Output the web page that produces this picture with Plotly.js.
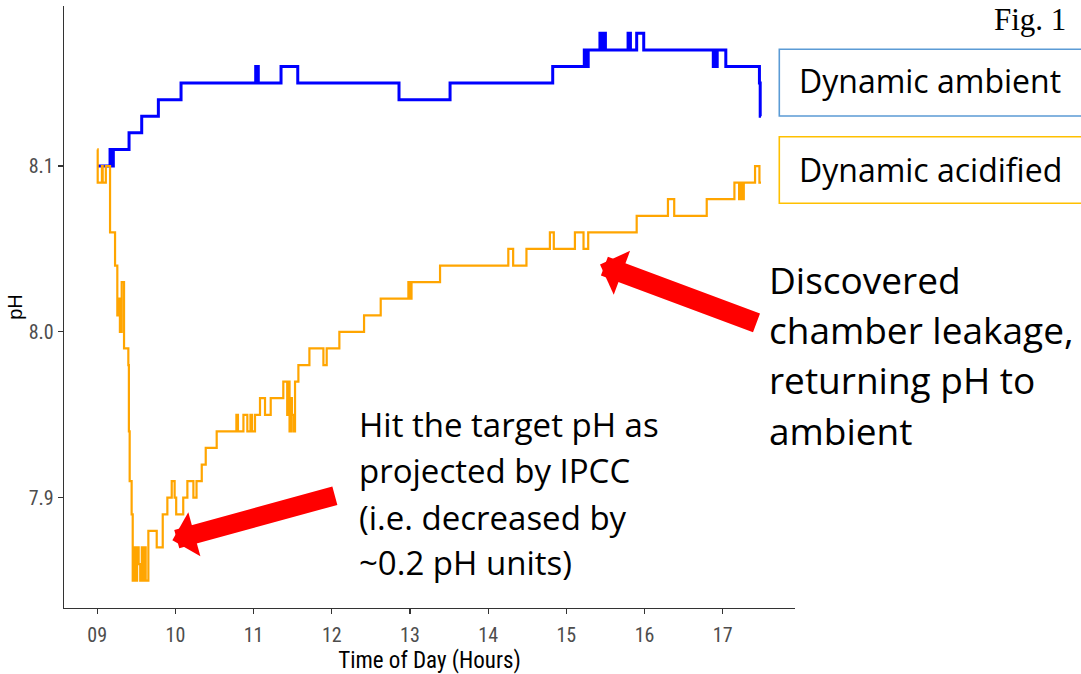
<!DOCTYPE html>
<html>
<head>
<meta charset="utf-8">
<script src="https://cdn.plot.ly/plotly-3.0.1.min.js"></script>
<style>html,body{margin:0;padding:0;background:#fff;}#chart{width:1081px;height:674px;}</style>
</head>
<body>
<div id="chart"></div>
<script>
// ---- data ----
const hourTicks = [9, 10, 11, 12, 13, 14, 15, 16, 17];
const hourLabels = ['09', '10', '11', '12', '13', '14', '15', '16', '17'];
const phTicks = [7.9, 8.0, 8.1];
const phLabels = ['7.9', '8.0', '8.1'];

const ambientTime = [9.00, 9.164, 9.185, 9.206, 9.407, 9.569, 9.782, 10.072, 11.027, 11.06, 11.351, 11.565, 12.86, 13.513, 14.826,
  15.23, 15.25, 15.26, 15.27, 15.28, 15.43, 15.45, 15.46, 15.48, 15.49, 15.50, 15.79, 15.82, 15.90, 15.99,
  16.88, 16.89, 16.90, 16.91, 16.92, 16.93, 17.04, 17.47, 17.48, 17.49];
const ambientPH = [8.10, 8.11, 8.10, 8.11, 8.12, 8.13, 8.14, 8.15, 8.16, 8.15, 8.16, 8.15, 8.14, 8.15, 8.16,
  8.17, 8.16, 8.17, 8.16, 8.17, 8.18, 8.17, 8.18, 8.17, 8.18, 8.17, 8.18, 8.17, 8.18, 8.17,
  8.16, 8.17, 8.16, 8.17, 8.16, 8.17, 8.16, 8.15, 8.13, 8.13];

const acidTime = [9.00, 9.006, 9.06, 9.07, 9.11, 9.164, 9.228, 9.257, 9.28, 9.29, 9.313, 9.343, 9.398, 9.405, 9.415, 9.44,
  9.454, 9.47, 9.49, 9.51, 9.53, 9.55, 9.57, 9.59, 9.61, 9.62, 9.654, 9.761, 9.838, 9.897, 9.953, 9.99, 10.01,
  10.10, 10.153, 10.23, 10.27, 10.337, 10.388, 10.528, 10.78, 10.80, 10.87, 10.92, 10.96, 10.98, 11.018,
  11.082, 11.146, 11.219, 11.38, 11.43, 11.45, 11.46, 11.48, 11.49, 11.51, 11.53, 11.573, 11.714, 11.893, 11.935,
  12.097, 12.413, 12.626, 12.98, 12.99, 13.00, 13.01, 13.02, 13.385, 14.258, 14.32, 14.49, 14.79, 14.84,
  15.11, 15.22, 15.28, 15.90, 16.30, 16.38, 16.796, 17.15, 17.21, 17.22, 17.23, 17.25, 17.26, 17.27, 17.414, 17.47, 17.49];
const acidPH = [8.11, 8.09, 8.10, 8.09, 8.10, 8.06, 8.04, 8.01, 8.02, 8.00, 8.03, 7.99, 7.98, 7.94, 7.91, 7.89,
  7.85, 7.87, 7.85, 7.87, 7.86, 7.85, 7.87, 7.85, 7.87, 7.85, 7.88, 7.87, 7.89, 7.90, 7.91, 7.90, 7.89,
  7.90, 7.91, 7.90, 7.91, 7.92, 7.93, 7.94, 7.95, 7.94, 7.95, 7.94, 7.95, 7.94, 7.95,
  7.96, 7.95, 7.96, 7.97, 7.95, 7.97, 7.94, 7.96, 7.95, 7.94, 7.97, 7.98, 7.99, 7.98, 7.99,
  8.00, 8.01, 8.02, 8.03, 8.02, 8.03, 8.02, 8.03, 8.04, 8.05, 8.04, 8.05, 8.06, 8.05,
  8.06, 8.05, 8.06, 8.07, 8.08, 8.07, 8.08, 8.09, 8.08, 8.09, 8.08, 8.09, 8.08, 8.09, 8.10, 8.09, 8.09];

const seriesNames = ['Dynamic ambient', 'Dynamic acidified'];
const ipccLines = ['Hit the target pH as', 'projected by IPCC', '(i.e. decreased by', '~0.2 pH units)'];
const leakLines = ['Discovered', 'chamber leakage,', 'returning pH to', 'ambient'];

// ---- layout helpers (pixel -> paper) ----
const W = 1081, H = 674;
const M = {l: 64, r: 286, t: 6, b: 66};
const PW = W - M.l - M.r, PH = H - M.t - M.b;
const px = x => (x - M.l) / PW;
const py = y => (H - M.b - y) / PH;

const narrow = 'Liberation Sans Narrow, Arial Narrow, Roboto Condensed, sans-serif';
const calib = 'Open Sans, Lato, Calibri, sans-serif';

const traces = [
  {x: ambientTime, y: ambientPH, name: seriesNames[0], type: 'scatter', mode: 'lines',
   line: {color: '#0000FF', width: 3, shape: 'hv'}},
  {x: acidTime, y: acidPH, name: seriesNames[1], type: 'scatter', mode: 'lines',
   line: {color: '#FFA500', width: 2.2, shape: 'hv'}}
];

const annotations = [];
const ipccCenters = [424, 470.2, 517.2, 562.2];
ipccLines.forEach((t, i) => annotations.push({xref: 'paper', yref: 'paper', x: px(357), y: py(ipccCenters[i]),
  xanchor: 'left', yanchor: 'middle', showarrow: false, text: t, font: {family: calib, size: 33, color: '#000'}}));
const leakCenters = [279, 329, 379, 430.6];
leakLines.forEach((t, i) => annotations.push({xref: 'paper', yref: 'paper', x: px(767), y: py(leakCenters[i]),
  xanchor: 'left', yanchor: 'middle', showarrow: false, text: t, font: {family: calib, size: 37, color: '#000'}}));
// legend labels
annotations.push({xref: 'paper', yref: 'paper', x: px(797), y: py(81), xanchor: 'left', yanchor: 'middle',
  showarrow: false, text: seriesNames[0], font: {family: calib, size: 32, color: '#000'}});
annotations.push({xref: 'paper', yref: 'paper', x: px(797), y: py(169.4), xanchor: 'left', yanchor: 'middle',
  showarrow: false, text: seriesNames[1], font: {family: calib, size: 32, color: '#000'}});
// Fig. 1
annotations.push({xref: 'paper', yref: 'paper', x: px(992), y: py(0), xanchor: 'left', yanchor: 'top',
  showarrow: false, text: 'Fig. 1', font: {family: 'Liberation Serif, Times New Roman, serif', size: 31, color: '#000'}});
// red arrows
annotations.push({xref: 'x', yref: 'y', x: 9.961, y: 7.8743, ax: 164, ay: -45, text: '', showarrow: true,
  arrowhead: 1, arrowsize: 0.4, arrowwidth: 19, arrowcolor: '#FF0000', standoff: 0});
annotations.push({xref: 'x', yref: 'y', x: 15.431, y: 8.0406, ax: 158, ay: 59, text: '', showarrow: true,
  arrowhead: 1, arrowsize: 0.39, arrowwidth: 20, arrowcolor: '#FF0000', standoff: 0});

const shapes = [
  {type: 'rect', xref: 'paper', yref: 'paper', x0: px(779.3), x1: px(1110), y0: py(116), y1: py(49.3),
   line: {color: '#5B9BD5', width: 1.6}, fillcolor: 'rgba(0,0,0,0)'},
  {type: 'rect', xref: 'paper', yref: 'paper', x0: px(779.3), x1: px(1110), y0: py(203.3), y1: py(136.7),
   line: {color: '#FFC000', width: 1.6}, fillcolor: 'rgba(0,0,0,0)'}
];

const axisCommon = {showline: true, linecolor: '#333333', linewidth: 1.3, ticks: 'outside', ticklen: 5,
  tickcolor: '#333333', tickwidth: 1.2, showgrid: false, zeroline: false, fixedrange: true,
  tickfont: {family: narrow, size: 20, color: '#4D4D4D'}};

const layout = {
  width: W, height: H, margin: M, paper_bgcolor: '#fff', plot_bgcolor: '#fff', showlegend: false,
  xaxis: Object.assign({}, axisCommon, {range: [8.575, 17.925], tickvals: hourTicks, ticktext: hourLabels,
    ticklabelstandoff: 4,
    title: {text: 'Time of Day (Hours)', font: {family: narrow, size: 23, color: '#000'}, standoff: 4}}),
  yaxis: Object.assign({}, axisCommon, {range: [7.8335, 8.1965], tickvals: phTicks, ticktext: phLabels,
    ticklabelstandoff: 0,
    title: {text: 'pH', font: {family: 'Liberation Sans, Arial, sans-serif', size: 20, color: '#000'}, standoff: 0}}),
  annotations: annotations, shapes: shapes
};

Plotly.newPlot('chart', traces, layout, {displayModeBar: false, staticPlot: true});
</script>
</body>
</html>
